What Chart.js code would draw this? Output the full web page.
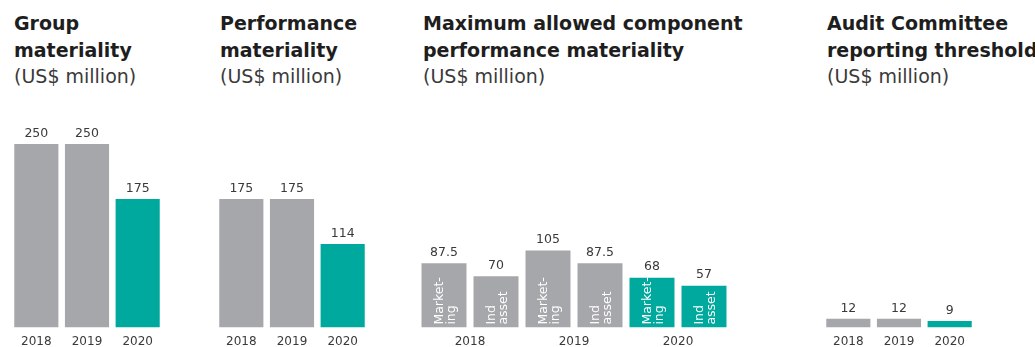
<!DOCTYPE html>
<html>
<head>
<meta charset="utf-8">
<script src="https://cdn.jsdelivr.net/npm/chart.js@4.4.1/dist/chart.umd.min.js"></script>
<style>
  html, body { margin: 0; padding: 0; background: #fff; overflow: hidden; }
  #wrap { position: relative; width: 1035px; height: 347px; overflow: hidden; background: #fff; }
  .title { position: absolute; top: 10px; font-family: "DejaVu Sans", sans-serif; font-size: 19px; line-height: 26.5px; color: #1e1e1e; white-space: nowrap; }
  .title b { font-weight: bold; }
  .title span { font-weight: normal; color: #3a3a3a; }
  .panel { position: absolute; top: 100px; height: 247px; }
</style>
</head>
<body>
<div id="wrap">
  <div class="title" style="left:14px"><b>Group<br>materiality</b><br><span>(US$ million)</span></div>
  <div class="title" style="left:220px"><b>Performance<br>materiality</b><br><span>(US$ million)</span></div>
  <div class="title" style="left:423px"><b>Maximum allowed component<br>performance materiality</b><br><span>(US$ million)</span></div>
  <div class="title" style="left:827px"><b>Audit Committee<br>reporting threshold</b><br><span>(US$ million)</span></div>

  <div class="panel" style="left:11px;width:152px"><canvas id="c1" width="152" height="247"></canvas></div>
  <div class="panel" style="left:216px;width:152px"><canvas id="c2" width="152" height="247"></canvas></div>
  <div class="panel" style="left:418px;width:312px"><canvas id="c3" width="312" height="247"></canvas></div>
  <div class="panel" style="left:823px;width:152px"><canvas id="c4" width="152" height="247"></canvas></div>
</div>
<script>
// Years shown on every panel
const years = ['2018', '2019', '2020'];

// US$ million
const groupMateriality = [250, 250, 175];
const performanceMateriality = [175, 175, 114];
const componentMarketing = [87.5, 105, 68];
const componentIndAsset = [70, 87.5, 57];
const auditThreshold = [12, 12, 9];

// Component names written inside the component bars
const componentNames = [['Market-', 'ing'], ['Ind', 'asset']];

// Shared value axis so all panels are on the same scale
const axisMax = 250;
const currentYear = '2020';

const GREY = '#a6a7aa';
const TEAL = '#00a99d';
const TEXT = '#3a3a3a';
const FONT = '"DejaVu Sans", sans-serif';

const barColor = (ctx) => years[ctx.dataIndex] === currentYear ? TEAL : GREY;

// Value printed above each bar
const valueLabels = {
  id: 'valueLabels',
  afterDatasetsDraw(chart) {
    const { ctx } = chart;
    ctx.save();
    ctx.font = '12.5px ' + FONT;
    ctx.fillStyle = TEXT;
    ctx.textAlign = 'center';
    ctx.textBaseline = 'middle';
    chart.data.datasets.forEach((ds, di) => {
      chart.getDatasetMeta(di).data.forEach((bar, i) => {
        ctx.fillText(String(ds.data[i]), bar.x, bar.y - 10.5);
      });
    });
    ctx.restore();
  }
};

// Rotated component names inside the bars
const innerNames = {
  id: 'innerNames',
  afterDatasetsDraw(chart, args, opts) {
    if (!opts.names) return;
    const { ctx } = chart;
    ctx.save();
    ctx.font = '12.5px ' + FONT;
    ctx.fillStyle = '#ffffff';
    ctx.textAlign = 'left';
    ctx.textBaseline = 'alphabetic';
    chart.data.datasets.forEach((ds, di) => {
      const lines = opts.names[di];
      chart.getDatasetMeta(di).data.forEach((bar) => {
        ctx.save();
        ctx.translate(bar.x, bar.base - 3);
        ctx.rotate(-Math.PI / 2);
        lines.forEach((line, li) => {
          ctx.fillText(line, 0, -1.5 + li * 12);
        });
        ctx.restore();
      });
    });
    ctx.restore();
  }
};

function makeChart(id, datasets, barPct, names) {
  return new Chart(document.getElementById(id), {
    type: 'bar',
    data: { labels: years, datasets },
    options: {
      responsive: false,
      animation: false,
      layout: { padding: { top: 44, left: 0, right: 0, bottom: 0 } },
      datasets: { bar: { categoryPercentage: 1.0, barPercentage: barPct } },
      plugins: {
        legend: { display: false },
        tooltip: { enabled: false },
        innerNames: { names }
      },
      scales: {
        x: {
          grid: { display: false, drawTicks: false },
          border: { display: false },
          ticks: { color: TEXT, font: { family: FONT, size: 12 }, padding: 7, autoSkip: false, maxRotation: 0 },
          afterFit(scale) { scale.height = 19.4; }
        },
        y: { display: false, min: 0, max: axisMax }
      }
    },
    plugins: [valueLabels, innerNames]
  });
}

makeChart('c1', [{ data: groupMateriality, backgroundColor: barColor }], 0.871);
makeChart('c2', [{ data: performanceMateriality, backgroundColor: barColor }], 0.871);
makeChart('c3', [
  { label: 'Marketing', data: componentMarketing, backgroundColor: barColor },
  { label: 'Ind asset', data: componentIndAsset, backgroundColor: barColor }
], 0.865, componentNames);
makeChart('c4', [{ data: auditThreshold, backgroundColor: barColor }], 0.871);
</script>
</body>
</html>
